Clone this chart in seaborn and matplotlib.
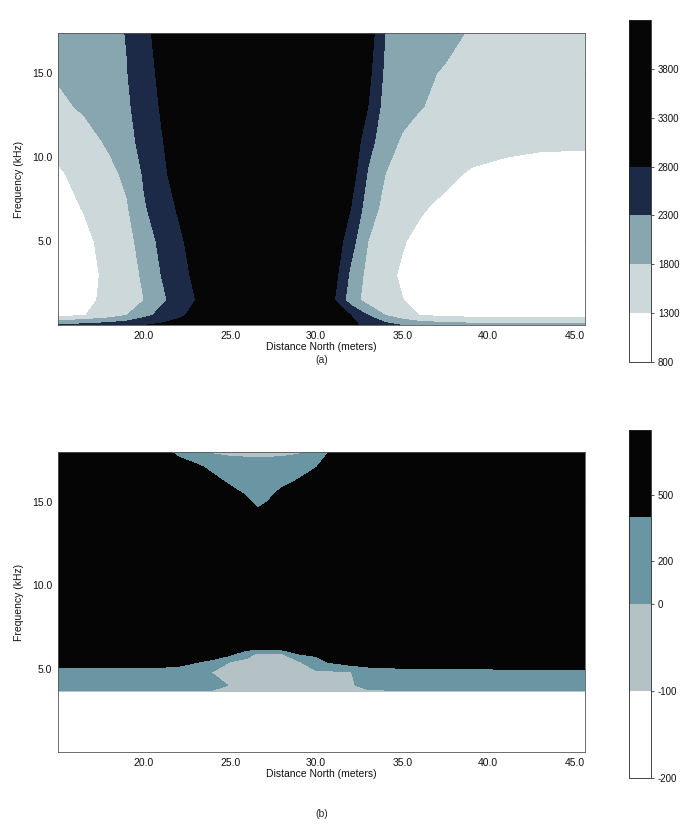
import numpy as np
import matplotlib
matplotlib.use("Agg")
import matplotlib.pyplot as plt
from matplotlib.colors import ListedColormap, BoundaryNorm
import seaborn as sns

# ---- panel (a): grid ----
dist_a = [15, 16.5, 18, 19, 20, 21, 22, 23, 24, 26, 28, 30, 31, 32, 33, 34, 35, 36, 37.5, 39, 41, 43, 45.6]
freq_a = [0, 0.6, 1.5, 3, 5, 7, 9, 11, 13, 15, 17.4]
vals_a = [
    [2400, 2500, 2600, 2700, 2800, 2900, 3000, 3100, 3300, 3500, 3500, 3300, 3100, 2900, 2700, 2500, 2300, 2150, 2050, 2000, 2000, 2000, 2000],
    [1150, 1280, 1550, 1800, 2150, 2450, 2700, 2950, 3200, 3500, 3500, 3200, 3000, 2800, 2300, 1800, 1500, 1300, 1200, 1150, 1100, 1100, 1150],
    [1000, 1220, 1380, 1600, 1800, 2200, 2500, 2800, 3100, 3500, 3600, 3200, 2850, 2050, 1600, 1450, 1310, 1200, 1050, 950, 900, 900, 950],
    [950, 1150, 1400, 1650, 1850, 2300, 2600, 2900, 3200, 3700, 3800, 3300, 3000, 2200, 1650, 1400, 1250, 1150, 1000, 900, 850, 850, 900],
    [1000, 1200, 1450, 1680, 1950, 2450, 2700, 3000, 3400, 3900, 3950, 3500, 3150, 2500, 1800, 1500, 1330, 1200, 1000, 900, 850, 850, 900],
    [1150, 1320, 1580, 1750, 2250, 2550, 2850, 3300, 3700, 3950, 4000, 3750, 3300, 2800, 2050, 1650, 1450, 1350, 1200, 1050, 950, 950, 1000],
    [1250, 1420, 1680, 1900, 2350, 2650, 3050, 3500, 3800, 4000, 4000, 3850, 3500, 3050, 2250, 1800, 1600, 1500, 1400, 1250, 1150, 1100, 1100],
    [1420, 1620, 1880, 2150, 2450, 2750, 3150, 3600, 3850, 4000, 4000, 3900, 3600, 3200, 2500, 2000, 1750, 1650, 1550, 1500, 1450, 1400, 1380],
    [1700, 1860, 2050, 2250, 2450, 2850, 3300, 3700, 3900, 4000, 4000, 3950, 3700, 3300, 2800, 2100, 1950, 1820, 1700, 1600, 1550, 1500, 1480],
    [1850, 1950, 2100, 2280, 2600, 2900, 3400, 3700, 3900, 4000, 4000, 4000, 3800, 3500, 2950, 2200, 2000, 1900, 1750, 1650, 1600, 1580, 1550],
    [2000, 2050, 2150, 2320, 2650, 3000, 3500, 3800, 3900, 4000, 4000, 4000, 3900, 3600, 3100, 2300, 2200, 2100, 1950, 1750, 1650, 1600, 1550],
]
levels_a = [800, 1300, 1800, 2300, 2800, 4300]
cbar_ticks_a = [800, 1300, 1800, 2300, 2800, 3300, 3800]
colors_a = ["#ffffff", "#cdd8db", "#88a6af", "#1c2a48", "#060606"]

# ---- panel (b) ----
dist_b = [15, 17, 19, 21, 22, 23, 24, 25, 26, 26.6, 27.2, 28, 29, 30, 31, 32, 33, 35, 37, 39, 41, 43, 45.6]
freq_b = [3.6, 4.0, 4.8, 5.4, 5.9, 6.3, 8, 11, 14, 14.7, 15.5, 16.3, 17.1, 18]
vals_b = [
    [-50] * 23,
    [200, 200, 200, 200, 200, 200, 120, -20, -50, -50, -50, -50, -50, -50, -50, -30, 80, 200, 200, 220, 250, 250, 220],
    [220, 220, 220, 220, 200, 120, -20, -40, -60, -60, -60, -60, -60, -50, -50, -10, 150, 250, 250, 280, 300, 300, 300],
    [600, 600, 600, 600, 550, 420, 300, -10, -40, -50, -50, -50, -40, 300, 450, 600, 650, 650, 650, 650, 650, 650, 650],
    [700, 700, 700, 700, 700, 650, 620, 500, 50, -20, -20, -20, 420, 450, 600, 700, 700, 700, 700, 700, 700, 700, 700],
    [700] * 23,
    [750] * 23,
    [780] * 23,
    [780] * 23,
    [780, 780, 780, 780, 780, 780, 750, 650, 500, 390, 450, 600, 750, 780, 780, 780, 780, 780, 780, 780, 780, 780, 780],
    [780, 780, 780, 780, 780, 780, 700, 520, 360, 300, 330, 480, 650, 750, 780, 780, 780, 780, 780, 780, 780, 780, 780],
    [780, 780, 780, 780, 750, 650, 500, 320, 220, 200, 220, 300, 420, 600, 750, 780, 780, 780, 780, 780, 780, 780, 780],
    [780, 780, 780, 700, 600, 480, 300, 200, 150, 150, 150, 180, 250, 390, 600, 780, 780, 780, 780, 780, 780, 780, 780],
    [700, 700, 700, 550, 300, 120, -40, -80, -80, -80, -80, -80, -40, 120, 500, 700, 700, 700, 700, 700, 700, 700, 700],
]
levels_b = [-200, -100, 0, 400, 800]
cbar_ticks_b = [-200, -100, 0, 200, 500]
colors_b = ["#ffffff", "#b4c2c5", "#6a95a3", "#050505"]

xticks = [20, 25, 30, 35, 40, 45]
yticks = [5, 10, 15]

sns.set_theme(style="white")
plt.rcParams["font.family"] = ["Liberation Sans", "DejaVu Sans"]
plt.rcParams["font.size"] = 7.5

fig = plt.figure(figsize=(6.84, 8.24), dpi=100)
ax_a = fig.add_axes([0.0848, 0.605, 0.770, 0.355])
cax_a = fig.add_axes([0.9196, 0.5607, 0.032, 0.415])
ax_b = fig.add_axes([0.0848, 0.0874, 0.770, 0.364])
cax_b = fig.add_axes([0.9196, 0.0558, 0.032, 0.4223])


def draw_panel(ax, cax, dist, freq, vals, levels, colors, ticks, ylim, spacing, tag, tag_y):
    cmap = ListedColormap(sns.color_palette(colors))
    norm = BoundaryNorm(levels, cmap.N)
    cs = ax.contourf(dist, freq, np.array(vals), levels=levels, cmap=cmap, norm=norm)
    ax.set_xlim(15, 45.6)
    ax.set_ylim(*ylim)
    ax.set_xticks(xticks)
    ax.set_xticklabels([f"{t:.1f}" for t in xticks])
    ax.set_yticks(yticks)
    ax.set_yticklabels([f"{t:.1f}" for t in yticks])
    ax.tick_params(direction="in", length=3, width=0.6, top=True, right=True,
                   labelsize=7.5, pad=4, colors="#111111")
    for s in ax.spines.values():
        s.set_linewidth(0.6)
        s.set_color("#555555")
    ax.set_xlabel("Distance North (meters)", fontsize=7.5, labelpad=1, color="#111111")
    ax.set_ylabel("Frequency (kHz)", fontsize=7.5, labelpad=6, color="#111111")
    ax.text(0.5, tag_y, tag, transform=ax.transAxes, ha="center", va="top", fontsize=7.5)

    cb = fig.colorbar(cs, cax=cax, spacing=spacing, ticks=ticks)
    cb.ax.minorticks_off()
    cb.ax.set_yticklabels([str(t) for t in ticks])
    cb.ax.tick_params(labelsize=7, length=2, width=0.5, pad=3, colors="#111111")
    cb.outline.set_linewidth(0.6)


draw_panel(ax_a, cax_a, dist_a, freq_a, vals_a, levels_a, colors_a,
           cbar_ticks_a, (0, 17.4), "proportional", "(a)", -0.1)
draw_panel(ax_b, cax_b, dist_b, freq_b, vals_b, levels_b, colors_b,
           cbar_ticks_b, (0, 18), "uniform", "(b)", -0.19)

fig.savefig("out.png", dpi=100)
